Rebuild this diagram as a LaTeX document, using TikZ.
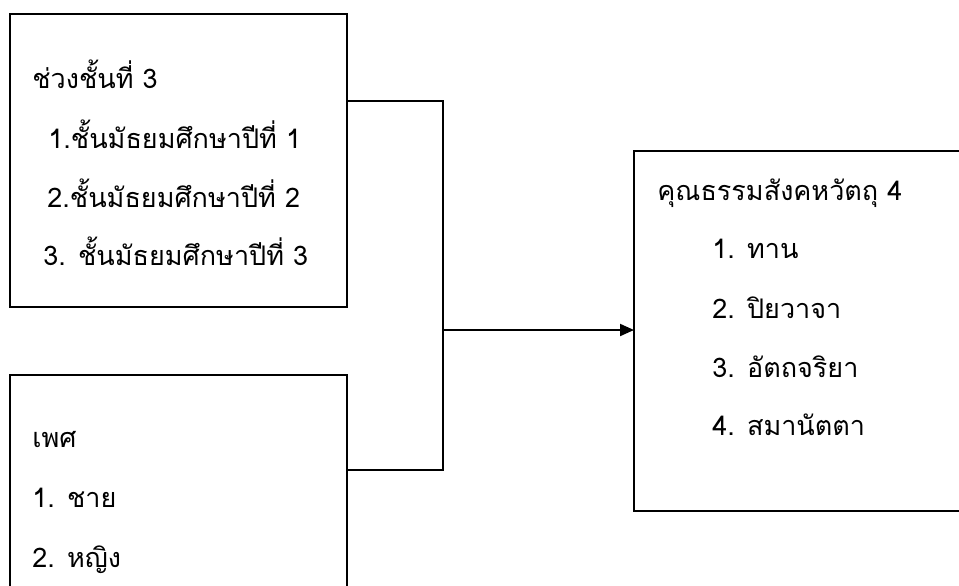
\documentclass[tikz,border=0pt]{standalone}
\usepackage{fontspec}
\newfontfamily\thaifont[Script=Thai]{Loma}
\usetikzlibrary{positioning, arrows.meta}
\tikzset{
  box/.style={draw, line width=1pt, inner sep=0pt, outer sep=0pt, anchor=north west},
  item/.style={anchor=base west, inner sep=0pt, font=\thaifont\fontsize{13.5}{16}\selectfont},
  link/.style={line width=1pt},
}
\begin{document}
\begin{tikzpicture}[x=0.5pt, y=-0.5pt]
  \useasboundingbox (0,0) rectangle (959,585);
  \node[box, minimum width=168.5pt, minimum height=146.5pt] (grade) at (10,14) {};
  \node[box, minimum width=168.5pt, minimum height=140pt] (sex) at (10,375) {};
  \node[box, minimum width=190pt, minimum height=180pt] (virtue) at (634,151) {};
  \node[item] (gradehead) at (32,88) {ช่วงชั้นที่ 3};
  \node[item] (grade1) at (48,148) {1.ชั้นมัธยมศึกษาปีที่ 1};
  \node[item] (grade2) at (47,207) {2.ชั้นมัธยมศึกษาปีที่ 2};
  \node[item] (grade3) at (43,265) {3. ชั้นมัธยมศึกษาปีที่ 3};
  \node[item] (sexhead) at (32,447) {เพศ};
  \node[item] (sex1) at (32,507) {1. ชาย};
  \node[item] (sex2) at (32,567) {2. หญิง};
  \node[item] (virtuehead) at (657,200) {คุณธรรมสังคหวัตถุ 4};
  \node[item] (virtue1) at (712,258) {1. ทาน};
  \node[item] (virtue2) at (712,318) {2. ปิยวาจา};
  \node[item] (virtue3) at (712,377) {3. อัตถจริยา};
  \node[item] (virtue4) at (712,435) {4. สมานัตตา};
  \coordinate (gradeout) at (grade.east |- 0,101);
  \coordinate (sexout) at (sex.east |- 0,470);
  \coordinate (join) at (443,330);
  \draw[link] (gradeout) -| (join) |- (sexout);
  \draw[link, -{Triangle[length=7pt, width=6pt]}] (join) -- (join -| virtue.west);
\end{tikzpicture}
\end{document}
